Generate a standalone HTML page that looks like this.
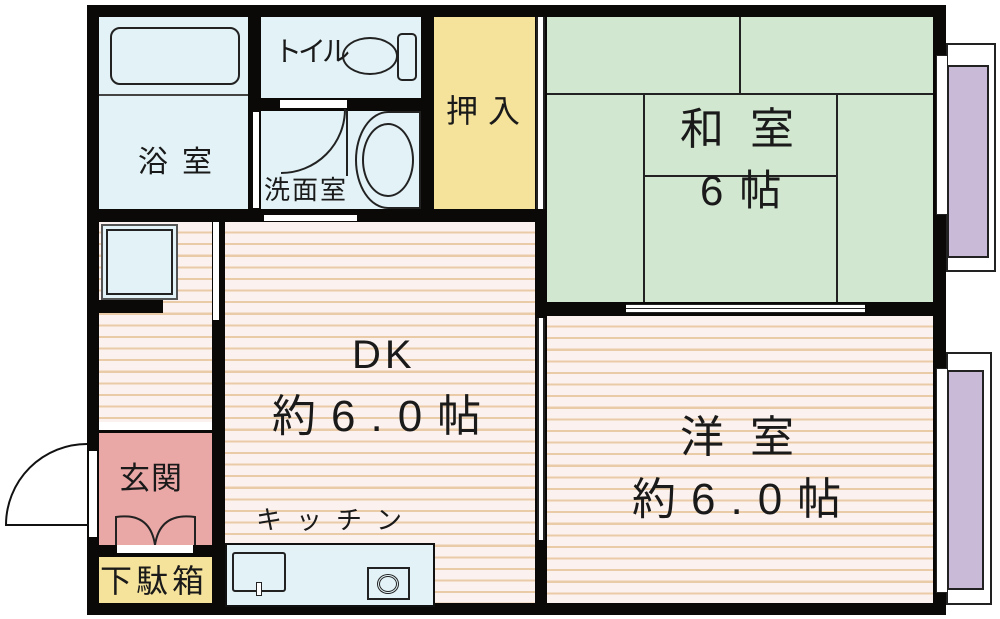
<!DOCTYPE html>
<html><head><meta charset="utf-8"><style>
body{margin:0;width:1000px;height:619px;background:#fff;position:relative;overflow:hidden;font-family:"Liberation Sans","Noto Sans CJK JP",sans-serif;}
div,svg{position:absolute;box-sizing:border-box;}
.st{background:repeating-linear-gradient(to bottom,#fbf1ee 0px,#fbf1ee 9.5px,#e9cba8 9.5px,#e9cba8 11.6px);}
.bl{background:#e2f2f6;}
.t{color:#1a1a1a;white-space:nowrap;line-height:1;}
</style></head><body>
<div style="left:87px;top:5px;width:859px;height:610px;background:#0b0808;"></div>
<!-- bath -->
<div class="bl" style="left:99px;top:17px;width:149px;height:192px;"></div>
<div style="left:110px;top:27px;width:130px;height:58px;border:2px solid #222;border-radius:10px;"></div>
<div style="left:99px;top:94px;width:149px;height:2px;background:#444;"></div>
<div class="t" style="left:138px;top:148px;font-size:30px;letter-spacing:14px;">浴室</div>
<!-- toilet -->
<div class="bl" style="left:261px;top:17px;width:160px;height:81px;"></div>
<div class="t" style="left:274px;top:38px;font-size:28px;letter-spacing:-4px;">トイル</div>
<div style="left:342px;top:37px;width:56px;height:38px;border:2px solid #222;border-radius:50%;"></div>
<div style="left:397px;top:33px;width:20px;height:48px;border:2px solid #222;border-radius:5px;background:#e2f2f6;"></div>
<!-- wash -->
<div class="bl" style="left:261px;top:111px;width:160px;height:98px;"></div>
<div style="left:280px;top:100px;width:67px;height:8px;background:#fff;"></div>
<div style="left:253px;top:112px;width:6px;height:96px;background:#fff;"></div>
<div style="left:216px;top:44px;width:130px;height:130px;border:2px solid #222;border-radius:50%;clip-path:polygon(50% 50%,100% 50%,100% 100%,50% 100%);"></div>
<div style="left:346px;top:110px;width:2px;height:66px;background:#222;"></div>
<div style="left:355px;top:111px;width:66px;height:98px;border:2px solid #222;border-radius:50% 0 0 50%/50% 0 0 50%;"></div>
<div style="left:362px;top:123px;width:52px;height:74px;border:2px solid #222;border-radius:50%;"></div>
<div class="t" style="left:264px;top:177px;font-size:26px;letter-spacing:2px;">洗面室</div>
<div style="left:264px;top:215px;width:93px;height:6px;background:#fff;"></div>
<!-- closet -->
<div style="left:434px;top:17px;width:101px;height:192px;background:#f6e39b;"></div>
<div class="t" style="left:446px;top:95px;font-size:32px;letter-spacing:10px;">押入</div>
<div style="left:536px;top:17px;width:9px;height:192px;background:#fff;border-left:2px solid #222;border-right:2px solid #222;"></div>
<!-- washitsu -->
<div style="left:547px;top:17px;width:386px;height:285px;background:#d1e7cf;"></div>
<div style="left:739px;top:17px;width:2px;height:78px;background:#222;"></div>
<div style="left:547px;top:93px;width:386px;height:2px;background:#222;"></div>
<div style="left:643px;top:93px;width:2px;height:209px;background:#222;"></div>
<div style="left:836px;top:93px;width:2px;height:209px;background:#222;"></div>
<div style="left:643px;top:175px;width:195px;height:2px;background:#222;"></div>
<div class="t" style="left:680px;top:108px;font-size:44px;letter-spacing:26px;">和室</div>
<div class="t" style="left:700px;top:170px;font-size:42px;letter-spacing:16px;">6帖</div>
<div style="left:626px;top:304px;width:239px;height:9px;background:#fff;border-top:1px solid #222;border-bottom:1px solid #222;"></div>
<div style="left:626px;top:308px;width:239px;height:1px;background:#222;"></div>
<!-- youshitsu -->
<div class="st" style="left:547px;top:316px;width:386px;height:287px;"></div>
<div class="t" style="left:680px;top:416px;font-size:44px;letter-spacing:26px;">洋室</div>
<div class="t" style="left:632px;top:478px;font-size:44px;letter-spacing:15px;">約6.0帖</div>
<div style="left:537px;top:318px;width:8px;height:222px;background:#fff;border-left:2px solid #222;border-right:2px solid #222;"></div>
<!-- DK -->
<div class="st" style="left:225px;top:222px;width:310px;height:381px;"></div>
<div class="t" style="left:352px;top:335px;font-size:40px;letter-spacing:4px;">DK</div>
<div class="t" style="left:272px;top:395px;font-size:44px;letter-spacing:15px;">約6.0帖</div>
<div class="t" style="left:256px;top:507px;font-size:26px;letter-spacing:14px;">キッチン</div>
<div style="left:225px;top:543px;width:210px;height:64px;background:#e2f2f6;border:2px solid #111;"></div>
<div style="left:232px;top:552px;width:54px;height:40px;border:2px solid #222;border-radius:3px;"></div>
<div style="left:256px;top:582px;width:6px;height:14px;background:#fff;border:1px solid #222;"></div>
<div style="left:367px;top:567px;width:43px;height:33px;border:2px solid #222;"></div>
<div style="left:377px;top:574px;width:22px;height:20px;border:3px double #222;border-radius:50%;"></div>
<!-- hall -->
<div class="st" style="left:99px;top:222px;width:113px;height:200px;"></div>
<div style="left:213px;top:222px;width:6px;height:98px;background:#fff;"></div>
<div style="left:101px;top:224px;width:77px;height:76px;background:#e2f2f6;border:2px solid #555;"></div>
<div style="left:106px;top:229px;width:67px;height:66px;border:2px solid #222;"></div>
<div style="left:99px;top:300px;width:64px;height:13px;background:#0b0808;"></div>
<div style="left:99px;top:422px;width:113px;height:8px;background:#fff;"></div>
<!-- genkan -->
<div style="left:99px;top:433px;width:113px;height:112px;background:#e9a7a6;"></div>
<div class="t" style="left:119px;top:463px;font-size:31px;letter-spacing:1px;">玄関</div>
<svg style="left:0;top:0" width="1000" height="619"><path d="M116 545 V517 Q150 512 155 545 M195 545 V517 Q160 512 155 545" fill="none" stroke="#222" stroke-width="2"/></svg>
<div style="left:117px;top:545px;width:76px;height:8px;background:#fff;"></div>
<div style="left:99px;top:557px;width:113px;height:46px;background:#f6e39b;"></div>
<div class="t" style="left:100px;top:565px;font-size:32px;letter-spacing:4px;">下駄箱</div>
<!-- entry door -->
<div style="left:89px;top:451px;width:8px;height:86px;background:#fff;"></div>
<div style="left:5px;top:443px;width:164px;height:164px;border:2px solid #111;border-radius:50%;clip-path:polygon(0 0,50% 0,50% 50%,0 50%);"></div>
<div style="left:5px;top:524px;width:84px;height:2px;background:#111;"></div>
<!-- right windows -->
<div style="left:946px;top:43px;width:50px;height:229px;border:2px solid #222;background:#fff;"></div>
<div style="left:936px;top:55px;width:12px;height:160px;background:#fff;border:1px solid #222;"></div>
<div style="left:947px;top:65px;width:42px;height:193px;background:#c9bbd8;border:2px solid #222;"></div>
<div style="left:946px;top:352px;width:46px;height:253px;border:2px solid #222;background:#fff;"></div>
<div style="left:947px;top:370px;width:37px;height:220px;background:#c9bbd8;border:2px solid #222;"></div>
<div style="left:936px;top:368px;width:12px;height:225px;background:#fff;border:1px solid #222;"></div>
</body></html>
